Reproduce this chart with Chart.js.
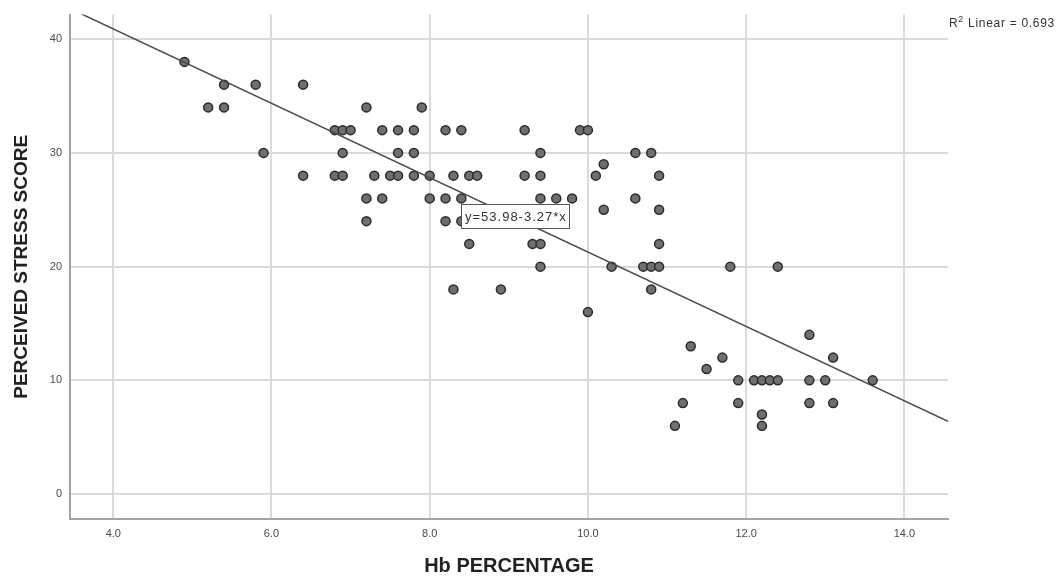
<!DOCTYPE html>
<html>
<head>
<meta charset="utf-8">
<script src="https://cdn.jsdelivr.net/npm/chart.js@4.4.0/dist/chart.umd.min.js"></script>
<style>
  body { margin: 0; background: #fff; }
  #wrap { width: 1059px; height: 578px; }
</style>
</head>
<body>
<div id="wrap"><canvas id="myChart" width="1059" height="578"></canvas></div>
<script>
'use strict';

////////// DATA //////////
// Hb % and perceived stress score, paired by index
let hbValues = [
  4.9, 5.2, 5.4, 5.4, 5.8, 5.9, 6.4, 6.4, 6.8, 6.9,
  7.0, 6.8, 6.9, 6.9, 7.2, 7.2, 7.2, 7.3, 7.4, 7.4,
  7.5, 7.6, 7.6, 7.6, 7.8, 7.8, 7.8, 7.9, 8.0, 8.0,
  8.2, 8.2, 8.2, 8.3, 8.3, 8.4, 8.4, 8.4, 8.5, 8.6,
  8.5, 8.9, 9.2, 9.2, 9.3, 9.4, 9.4, 9.4, 9.4, 9.4,
  9.6, 9.8, 9.9, 10.0, 10.0, 10.1, 10.2, 10.2, 10.3, 10.6,
  10.6, 10.7, 10.8, 10.8, 10.8, 10.9, 10.9, 10.9, 10.9, 11.1,
  11.2, 11.3, 11.5, 11.7, 11.8, 11.9, 11.9, 12.1, 12.2, 12.3,
  12.4, 12.2, 12.2, 12.4, 12.8, 12.8, 12.8, 13.0, 13.1, 13.1,
  13.6
];
let stressScores = [
  38, 34, 34, 36, 36, 30, 36, 28, 32, 32,
  32, 28, 28, 30, 34, 26, 24, 28, 32, 26,
  28, 32, 30, 28, 32, 30, 28, 34, 28, 26,
  32, 26, 24, 28, 18, 32, 26, 24, 28, 28,
  22, 18, 32, 28, 22, 30, 28, 26, 22, 20,
  26, 26, 32, 32, 16, 28, 29, 25, 20, 30,
  26, 20, 30, 20, 18, 28, 25, 22, 20, 6,
  8, 13, 11, 12, 20, 10, 8, 10, 10, 10,
  10, 7, 6, 20, 14, 10, 8, 10, 12, 8,
  10
];

// fit line as printed on the chart: y = 53.98 - 3.27*x
let fitIntercept = 53.98;
let fitSlope = -3.27;
let rSquared = 0.693;

let xTicks = [4, 6, 8, 10, 12, 14];
let yTicks = [0, 10, 20, 30, 40];

let xMin = 3.453, xMax = 14.552;
let yMin = -2.19, yMax = 42.16;

////////// BUILD //////////
let points = [];
for (let i = 0; i < hbValues.length; i++) {
  points.push({x: hbValues[i], y: stressScores[i]});
}
let fitLine = [xMin, xMax].map(v => ({x: v, y: fitIntercept + fitSlope * v}));

const FONT = "'Liberation Sans', Arial, sans-serif";
Chart.defaults.font.family = FONT;

// equation box + R² text
const annotate = {
  id: 'annotate',
  afterDatasetsDraw(chart) {
    const {ctx, scales: {x, y}} = chart;
    ctx.save();
    // equation label, anchored in data space
    let cx = x.getPixelForValue(9.08);
    let cy = y.getPixelForValue(24.45);
    let txt = 'y=' + fitIntercept.toFixed(2) + '-' + Math.abs(fitSlope).toFixed(2) + '*x';
    ctx.font = '13px ' + FONT;
    ctx.letterSpacing = '1px';
    let w = Math.round(ctx.measureText(txt).width + 6);
    let h = 24;
    let bx = Math.round(cx - w / 2) + 0.5;
    let by = Math.round(cy - h / 2) + 0.5;
    ctx.fillStyle = '#fff';
    ctx.fillRect(bx, by, w, h);
    ctx.strokeStyle = '#555';
    ctx.lineWidth = 1;
    ctx.strokeRect(bx, by, w, h);
    ctx.fillStyle = '#333';
    ctx.textAlign = 'left';
    ctx.textBaseline = 'middle';
    ctx.fillText(txt, bx + 3.5, cy + 1);

    // R² top right
    let rx = chart.chartArea.right + 1;
    ctx.letterSpacing = '0.7px';
    ctx.textAlign = 'left';
    ctx.textBaseline = 'alphabetic';
    ctx.fillStyle = '#333';
    ctx.font = '12px ' + FONT;
    ctx.fillText('R', rx, 27);
    rx += ctx.measureText('R').width;
    ctx.font = '9px ' + FONT;
    ctx.fillText('2', rx, 22);
    rx += ctx.measureText('2').width;
    ctx.font = '12px ' + FONT;
    ctx.fillText(' Linear = ' + rSquared.toFixed(3), rx, 27);
    ctx.restore();
  }
};

const ctx = document.getElementById('myChart');
const myChart = new Chart(ctx, {
  type: 'scatter',
  data: {
    datasets: [
      {
        type: 'line',
        label: 'Fit',
        data: fitLine,
        borderColor: '#4a4a4a',
        borderWidth: 1.5,
        pointRadius: 0,
        fill: false,
        order: 0
      },
      {
        label: 'PSS',
        data: points,
        backgroundColor: '#6f6f6f',
        borderColor: '#2a2a2a',
        borderWidth: 1.5,
        pointRadius: 4.5,
        order: 1
      }
    ]
  },
  options: {
    responsive: false,
    animation: false,
    devicePixelRatio: 1,
    layout: {padding: {top: 12, right: 111, bottom: 0, left: 0}},
    plugins: {
      legend: {display: false},
      tooltip: {enabled: false}
    },
    scales: {
      x: {
        type: 'linear',
        min: xMin,
        max: xMax,
        afterBuildTicks: s => { s.ticks = xTicks.map(v => ({value: v})); },
        afterFit: s => { s.height = 59; },
        grid: {color: '#dadada', lineWidth: 2, drawTicks: false},
        border: {color: '#a3a3a3', width: 2},
        ticks: {
          padding: 8,
          color: '#4a4a4a',
          font: {size: 11},
          callback: v => Number(v).toFixed(1)
        },
        title: {
          display: true,
          text: 'Hb PERCENTAGE',
          color: '#222',
          font: {size: 20, weight: 'bold'},
          padding: {top: 0, bottom: 0}
        }
      },
      y: {
        type: 'linear',
        min: yMin,
        max: yMax,
        afterBuildTicks: s => { s.ticks = yTicks.map(v => ({value: v})); },
        afterFit: s => { s.width = 70; },
        grid: {color: '#dadada', lineWidth: 2, drawTicks: false},
        border: {color: '#a3a3a3', width: 2},
        ticks: {
          padding: 8,
          color: '#4a4a4a',
          font: {size: 11}
        },
        title: {
          display: true,
          text: 'PERCEIVED STRESS SCORE',
          color: '#222',
          font: {size: 19, weight: 'bold'},
          padding: {top: 10, bottom: 0}
        }
      }
    }
  },
  plugins: [annotate]
});
</script>
</body>
</html>
